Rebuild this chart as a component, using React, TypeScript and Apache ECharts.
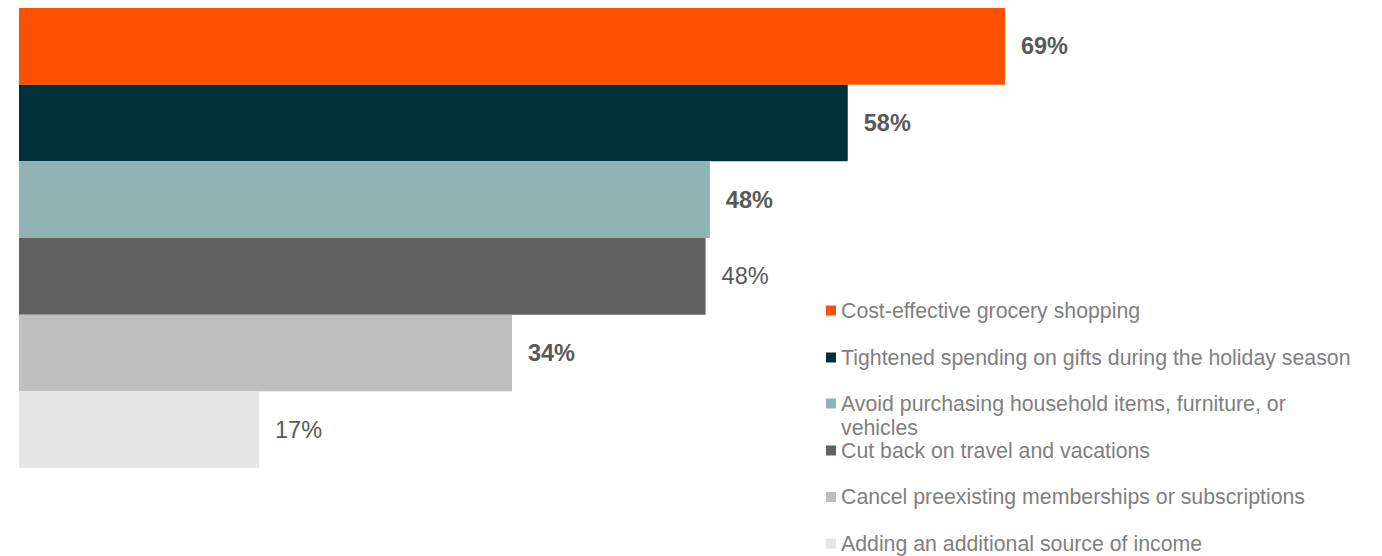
import React, { useEffect, useRef } from "react";
import * as echarts from "echarts";

const categories = [
  "Cost-effective grocery shopping",
  "Tightened spending on gifts during the holiday season",
  "Avoid purchasing household items, furniture, or vehicles",
  "Cut back on travel and vacations",
  "Cancel preexisting memberships or subscriptions",
  "Adding an additional source of income",
];
const legendTexts = [
  "Cost-effective grocery shopping",
  "Tightened spending on gifts during the holiday season",
  "\nAvoid purchasing household items, furniture, or\nvehicles",
  "Cut back on travel and vacations",
  "Cancel preexisting memberships or subscriptions",
  "Adding an additional source of income",
];
const values = [69, 58, 48.35, 48.05, 34.5, 16.8];
const valueLabels = ["69%", "58%", "48%", "48%", "34%", "17%"];
const boldLabels = [true, true, true, false, true, false];
const colors = ["#FE5000", "#02303A", "#8FB3B3", "#616161", "#BFBFBF", "#E6E6E6"];

const legendCenters = [310.5, 357.5, 403.5, 450.5, 497, 543.5];
const LH = 24;

export default function App() {
  const ref = useRef<HTMLDivElement>(null);
  useEffect(() => {
    if (!ref.current) return;
    document.body.style.margin = "0";
    document.body.style.overflow = "hidden";
    const chart = echarts.init(ref.current, undefined, { renderer: "svg" });
    const series = categories.map((name, i) => ({
      name,
      type: "bar",
      stack: "all",
      barCategoryGap: "0%",
      data: categories.map((_, j) => (j === i ? values[i] : null)),
      itemStyle: { color: colors[i] },
      label: {
        show: true,
        position: "right",
        distance: 16,
        formatter: () => valueLabels[i],
        color: "#595959",
        fontSize: 23.5,
        fontFamily: "Liberation Sans, Arial, sans-serif",
        fontWeight: boldLabels[i] ? "bold" : "normal",
      },
    }));
    const legends = categories.map((name, i) => {
      const multi = legendTexts[i].includes("\n");
      return {
        data: [name],
        orient: "vertical",
        left: 826,
        top: legendCenters[i] - (multi ? LH * 1.5 : LH / 2),
        padding: 0,
        icon: "rect",
        itemWidth: 10,
        itemHeight: 10,
        selectedMode: false,
        formatter: () => legendTexts[i],
        textStyle: {
          color: "#7F7F7F",
          fontSize: 21.3,
          lineHeight: LH,
          fontFamily: "Liberation Sans, Arial, sans-serif",
        },
      };
    });
    chart.setOption({
      animation: false,
      grid: { left: 19, top: 8, width: 1286, height: 460 },
      xAxis: { type: "value", min: 0, max: 90, show: false },
      yAxis: { type: "category", data: categories, inverse: true, show: false },
      legend: legends,
      series,
    } as any);
    return () => chart.dispose();
  }, []);
  return <div ref={ref} style={{ width: 1382, height: 556 }} />;
}
